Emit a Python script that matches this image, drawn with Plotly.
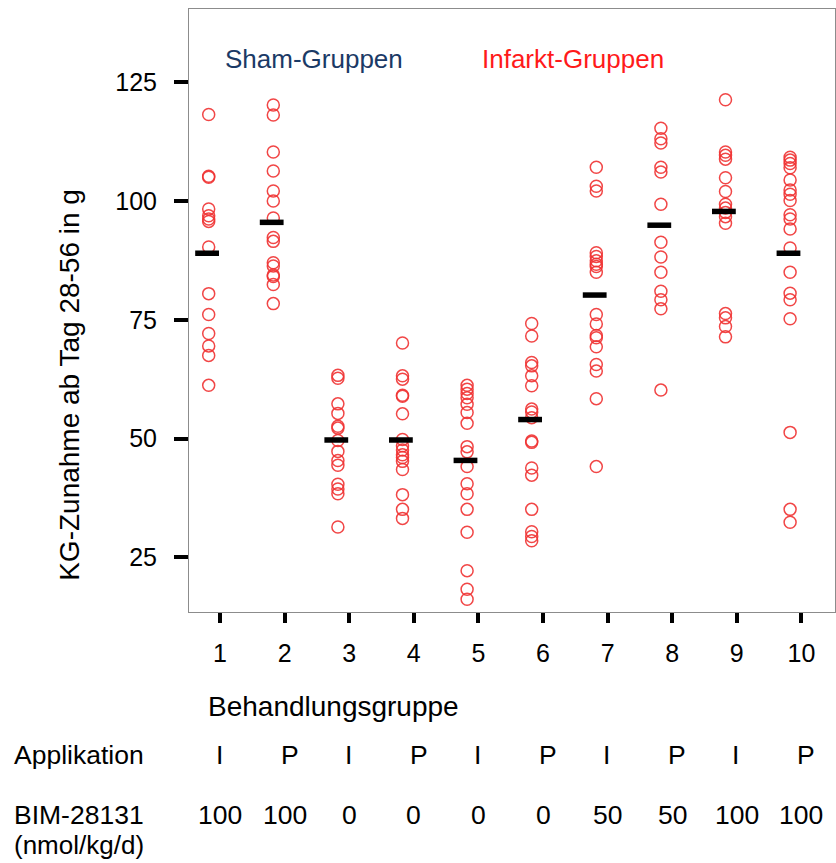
import plotly.graph_objects as go

# Treatment groups 1-10
groups = [1, 2, 3, 4, 5, 6, 7, 8, 9, 10]
tick_text = ["1", "2", "3", "4", "5", "6", "7", "8", "9", "10"]

# Weight gain day 28-56 (g), individual animals per group
g1 = [118.2, 105.2, 105.0, 98.3, 96.9, 96.2, 95.7, 90.3, 80.5, 76.1, 72.1, 69.5, 67.5, 61.2]
g2 = [120.2, 118.1, 110.3, 106.3, 102.1, 100.0, 96.4, 92.3, 91.5, 87.0, 86.3, 84.4, 84.1, 82.4, 78.4]
g3 = [63.3, 62.7, 57.3, 55.3, 52.6, 52.2, 49.6, 47.3, 45.4, 44.4, 40.4, 39.4, 38.4, 31.4]
g4 = [70.1, 63.2, 62.5, 59.1, 58.9, 55.2, 49.8, 48.5, 47.6, 46.6, 46.0, 45.2, 43.5, 38.2, 35.1, 33.2]
g5 = [61.2, 60.4, 59.5, 58.6, 57.2, 55.5, 53.2, 48.3, 47.2, 44.1, 40.5, 38.4, 35.1, 30.3, 22.2, 18.3, 16.2]
g6 = [74.2, 71.6, 66.0, 65.3, 63.2, 61.1, 56.2, 55.6, 54.4, 49.5, 49.2, 43.8, 42.3, 35.1, 30.4, 29.4, 28.5]
g7 = [107.1, 103.1, 102.1, 89.1, 88.3, 87.4, 86.7, 86.2, 85.0, 76.1, 74.1, 71.7, 71.2, 69.3, 65.6, 64.2, 58.4, 44.1]
g8 = [115.3, 113.1, 112.2, 107.1, 106.1, 99.3, 91.3, 88.2, 85.0, 81.0, 79.2, 77.3, 60.2]
g9 = [121.3, 110.3, 109.6, 108.8, 104.9, 102.0, 99.3, 98.5, 97.6, 96.7, 95.3, 76.3, 75.4, 73.6, 71.4]
g10 = [109.2, 108.6, 107.9, 107.0, 104.4, 102.3, 101.4, 100.1, 97.1, 96.2, 94.1, 90.1, 85.0, 80.6, 79.2, 75.2, 51.3, 35.1, 32.4]
values = [g1, g2, g3, g4, g5, g6, g7, g8, g9, g10]

# Group means (g)
means = [89.0, 95.5, 49.7, 49.7, 45.4, 54.0, 80.2, 94.9, 97.8, 89.0]

# Treatment table below the axis
applikation = ["I", "P", "I", "P", "I", "P", "I", "P", "I", "P"]
dose = ["100", "100", "0", "0", "0", "0", "50", "50", "100", "100"]

FONT = "Liberation Sans, Arial, sans-serif"
POINT_OFFSET = -0.175
MEAN_OFFSET = -0.2

xs, ys = [], []
for g, vals in zip(groups, values):
    xs += [g + POINT_OFFSET] * len(vals)
    ys += vals

fig = go.Figure()
fig.add_trace(go.Scatter(
    x=xs, y=ys, mode="markers",
    marker=dict(symbol="circle-open", size=12, color="rgba(240,50,50,0.9)",
                line=dict(width=1.5, color="rgba(240,50,50,0.9)")),
    showlegend=False, hoverinfo="y",
))
fig.add_trace(go.Scatter(
    x=[g + MEAN_OFFSET for g in groups], y=means, mode="markers",
    marker=dict(symbol="line-ew", size=17, color="black",
                line=dict(width=5.5, color="black")),
    showlegend=False, hoverinfo="y",
))

fig.update_layout(
    width=836, height=863,
    margin=dict(l=189, r=1, t=9, b=251),
    plot_bgcolor="white", paper_bgcolor="white",
    font=dict(family=FONT, color="black"),
    xaxis=dict(
        range=[0.52, 10.52], tickmode="array", tickvals=groups, ticktext=tick_text,
        ticks="outside", ticklen=10, tickwidth=4, tickcolor="black",
        showline=True, linecolor="#8c8c8c", linewidth=1, mirror=True,
        showgrid=False, zeroline=False, tickfont=dict(size=25),
        ticklabelstandoff=9,
    ),
    yaxis=dict(
        range=[13.5, 140.4], tickmode="array", tickvals=[25, 50, 75, 100, 125],
        ticks="outside", ticklen=14, tickwidth=4, tickcolor="black",
        showline=True, linecolor="#8c8c8c", linewidth=1, mirror=True,
        showgrid=False, zeroline=False, tickfont=dict(size=25),
        ticklabelstandoff=12,
    ),
)

ann = []
# y-axis title
ann.append(dict(text="KG-Zunahme ab Tag 28-56 in g", xref="paper", yref="paper",
                x=-0.184, y=0.377, xanchor="center", yanchor="middle",
                textangle=-90, showarrow=False, font=dict(size=28)))
# group headings inside the plot
ann.append(dict(text="Sham-Gruppen", xref="paper", yref="paper", x=0.194, y=0.917,
                xanchor="center", yanchor="middle", showarrow=False,
                font=dict(size=26, color="#1b3a66")))
ann.append(dict(text="Infarkt-Gruppen", xref="paper", yref="paper", x=0.595, y=0.917,
                xanchor="center", yanchor="middle", showarrow=False,
                font=dict(size=26, color="#ff1a1a")))
# x-axis title and treatment table
ann.append(dict(text="Behandlungsgruppe", xref="paper", yref="paper", x=0.224, y=-0.157,
                xanchor="center", yanchor="middle", showarrow=False, font=dict(size=28)))
ann.append(dict(text="Applikation", xref="paper", yref="paper", x=-0.2745, y=-0.237,
                xanchor="left", yanchor="middle", showarrow=False, font=dict(size=26.5)))
ann.append(dict(text="BIM-28131", xref="paper", yref="paper", x=-0.2745, y=-0.337,
                xanchor="left", yanchor="middle", showarrow=False, font=dict(size=26.5)))
ann.append(dict(text="(nmol/kg/d)", xref="paper", yref="paper", x=-0.2745, y=-0.386,
                xanchor="left", yanchor="middle", showarrow=False, font=dict(size=26)))
for g, a, d in zip(groups, applikation, dose):
    ann.append(dict(text=a, xref="x", yref="paper", x=g, y=-0.237,
                    xshift=(5 if a == "P" else -1), xanchor="center", yanchor="middle",
                    showarrow=False, font=dict(size=26.5)))
    ann.append(dict(text=d, xref="x", yref="paper", x=g, y=-0.337,
                    xanchor="center", yanchor="middle", showarrow=False,
                    font=dict(size=26.5)))
fig.update_layout(annotations=ann)

fig.write_html("out.html")
